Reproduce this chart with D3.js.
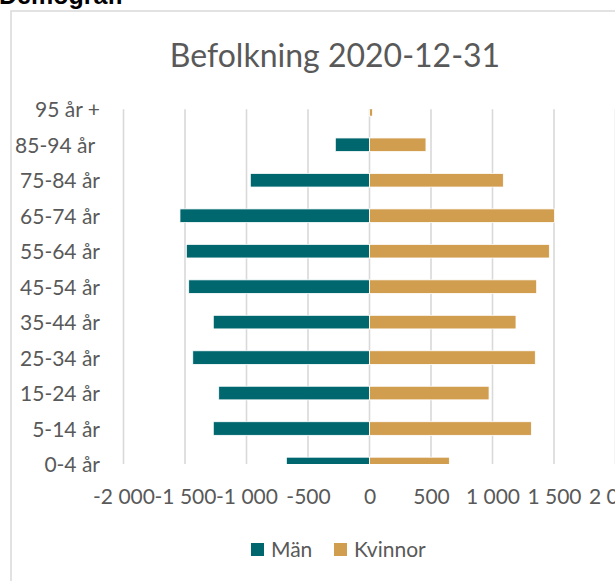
<!DOCTYPE html>
<html>
<head>
<meta charset="utf-8">
<script src="https://cdn.jsdelivr.net/npm/d3@7"></script>
<style>
  html, body { margin: 0; padding: 0; background: #fff; }
  svg { display: block; }
</style>
</head>
<body>
<svg id="chart" width="615" height="581"></svg>
<script>
const categories = ["95 år +", "85-94 år ", "75-84 år", "65-74 år", "55-64 år", "45-54 år", "35-44 år", "25-34 år", "15-24 år", "5-14 år", "0-4 år"];
const men   = [4, 278, 969, 1541, 1489, 1470, 1270, 1437, 1226, 1270, 676];
const women = [25, 459, 1088, 1503, 1462, 1359, 1191, 1348, 972, 1316, 649];
const xTicks = [-2000, -1500, -1000, -500, 0, 500, 1000, 1500, 2000];
const seriesNames = ["Män", "Kvinnor"];
const titleText = "Befolkning 2020-12-31";
const headerText = "Demografi";

const colors = ["#00676F", "#D19D4E"];
const textColor = "#595959";
const font = "Lato, 'Open Sans', sans-serif";

const svg = d3.select("#chart");

// header (cut off at top)
svg.append("text")
  .attr("x", -1).attr("y", 4)
  .attr("font-family", "'Liberation Sans', Arial, sans-serif")
  .attr("font-weight", "bold").attr("font-size", 25)
  .attr("fill", "#000")
  .text(headerText);

// chart frame
svg.append("rect")
  .attr("x", 11).attr("y", 11).attr("width", 800).attr("height", 800)
  .attr("fill", "#fff").attr("stroke", "#d9d9d9").attr("stroke-width", 1.5);

// title
svg.append("text")
  .attr("x", 335).attr("y", 67)
  .attr("text-anchor", "middle")
  .attr("font-family", font).attr("font-size", 32)
  .attr("fill", textColor)
  .text(titleText);

const plotTop = 109.3, plotBottom = 464;
const x = d3.scaleLinear().domain([-2000, 2000]).range([123.5, 615.5]);
const y = d3.scalePoint().domain(categories).range([plotTop, plotBottom]);
const barH = 13.6;

const defs = svg.append("defs");
defs.append("clipPath").attr("id", "plotclip")
  .append("rect")
  .attr("x", x(-2000) - 2).attr("y", plotTop)
  .attr("width", x(2000) - x(-2000) + 4).attr("height", plotBottom - plotTop);

// gridlines
svg.append("g")
  .selectAll("line").data(xTicks).join("line")
  .attr("x1", d => x(d)).attr("x2", d => x(d))
  .attr("y1", plotTop).attr("y2", plotBottom)
  .attr("stroke", "#d9d9d9").attr("stroke-width", 1.6);

// bars
const rows = categories.map((c, i) => ({ c, m: -men[i], w: women[i] }));
const bars = svg.append("g").attr("clip-path", "url(#plotclip)");
bars.selectAll("rect.m").data(rows).join("rect")
  .attr("class", "m")
  .attr("x", d => x(d.m)).attr("width", d => x(0) - x(d.m))
  .attr("y", d => y(d.c) - barH / 2).attr("height", barH)
  .attr("fill", colors[0]).attr("stroke", "#fff").attr("stroke-width", 0.8);
bars.selectAll("rect.w").data(rows).join("rect")
  .attr("class", "w")
  .attr("x", x(0)).attr("width", d => x(d.w) - x(0))
  .attr("y", d => y(d.c) - barH / 2).attr("height", barH)
  .attr("fill", colors[1]).attr("stroke", "#fff").attr("stroke-width", 0.8);

// x axis labels
const locale = d3.formatLocale({ decimal: ",", thousands: "\u00a0", grouping: [3], currency: ["", " kr"], minus: "-" });
const fmt = locale.format(",d");
const xAxis = d3.axisBottom(x).tickValues(xTicks).tickFormat(fmt).tickSize(0).tickPadding(0);
const gx = svg.append("g").attr("transform", `translate(0, ${plotBottom + 24})`).call(xAxis);
gx.select(".domain").remove();
gx.selectAll("text")
  .attr("font-family", font).attr("font-size", 21).attr("fill", textColor)
  .attr("dy", null).attr("y", 16);

// y axis labels
const yAxis = d3.axisLeft(y).tickSize(0).tickPadding(0);
const gy = svg.append("g").attr("transform", "translate(100, 0)").call(yAxis);
gy.select(".domain").remove();
gy.selectAll("text")
  .attr("font-family", font).attr("font-size", 21).attr("fill", textColor)
  .attr("dy", "0.36em").attr("x", 0)
  .style("white-space", "pre");

// legend
const legendItems = [
  { name: seriesNames[0], color: colors[0], x: 251 },
  { name: seriesNames[1], color: colors[1], x: 334 }
];
const lg = svg.append("g");
legendItems.forEach(it => {
  lg.append("rect").attr("x", it.x).attr("y", 543).attr("width", 13).attr("height", 13).attr("fill", it.color);
  lg.append("text").attr("x", it.x + 20).attr("y", 557)
    .attr("font-family", font).attr("font-size", 21).attr("fill", textColor)
    .text(it.name);
});
</script>
</body>
</html>
